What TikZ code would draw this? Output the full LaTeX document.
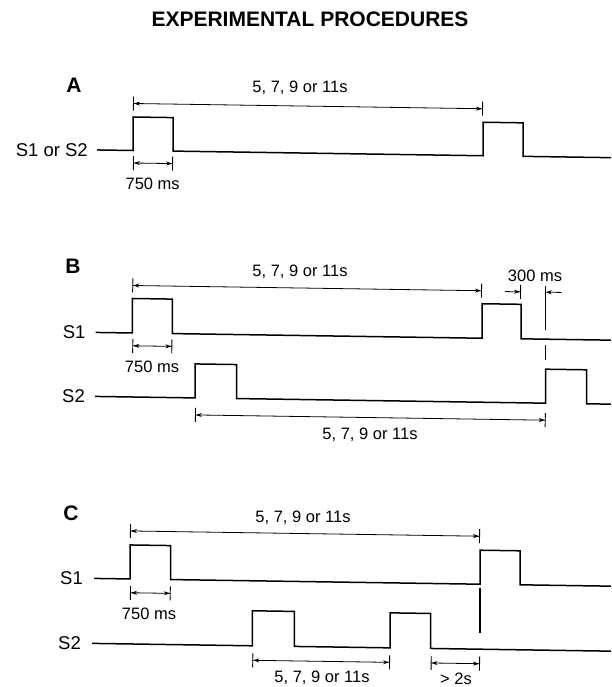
\documentclass[tikz,border=0pt]{standalone}
\usepackage{fontspec}
\setmainfont{Liberation Sans}
\usetikzlibrary{arrows.meta,positioning}
\tikzset{
      wave/.style={
        line width=1.5pt,
        line join=miter
      },
      dimline/.style={
        line width=0.8pt,
        {Bar[width=14pt,line width=0.9pt]Stealth[length=6pt,width=4pt]}-{Stealth[length=6pt,width=4pt]Bar[width=14pt,line width=0.9pt]}
      },
      halfdim/.style={
        line width=0.8pt,
        -{Stealth[length=6pt,width=4pt]Bar[width=14pt,line width=0.9pt]}
      },
      pointer/.style={
        line width=0.8pt,
        -{Stealth[length=6pt,width=4pt]}
      },
      marker/.style={line width=1.2pt},
      sig/.style={font=\fontsize{18.5}{21}\selectfont, inner sep=0pt},
      dimlabel/.style={font=\fontsize{16.5}{19}\selectfont, inner sep=0pt},
      panel/.style={font=\bfseries\fontsize{21}{24}\selectfont, inner sep=0pt}
    }

\begin{document}
\begin{tikzpicture}[x=1pt,y=-1pt]
    \useasboundingbox (0,0) rectangle (611,687);
    \begin{scope}[yslant=-0.015]
    \node[panel] (title) at (310,14.4) {EXPERIMENTAL PROCEDURES};

    \node[panel] (pA) at (74,84) {A};
    \coordinate (a0) at (97,148.5);
    \node[sig, left=9pt of a0] (sA) {S1 or S2};
    \draw[wave] (a0) -- (133,148.5) -- (133,115) -- (173,115) -- (173,148.5) -- (483,148.5) -- (483,115) -- (523,115) -- (523,148.5) -- (611,148.5);
    \coordinate (aT1) at (133,101.5);
    \coordinate (aT2) at (483,101.5);
    \draw[dimline] (aT1) -- (aT2);
    \node[dimlabel] (aTlab) at (300,83.5) {5, 7, 9 or 11s};
    \coordinate (aW1) at (133,161);
    \coordinate (aW2) at (173,161);
    \draw[dimline] (aW1) -- (aW2);
    \node[dimlabel] (aWlab) at (152.7,181.7) {750 ms};

    \node[panel] (pB) at (73,265.6) {B};
    \coordinate (b1) at (95.7,331);
    \coordinate (b2) at (95,395);
    \node[sig, left=10pt of b1] (sB1) {S1};
    \node[sig, left=10pt of b2] (sB2) {S2};
    \draw[wave] (b1) -- (132.3,331) -- (132.3,296.5) -- (172.3,296.5) -- (172.3,331) -- (482,331) -- (482,296.5) -- (521,296.5) -- (521,331) -- (611,331);
    \draw[wave] (b2) -- (195,395) -- (195,361) -- (236.7,361) -- (236.7,395) -- (545.7,395) -- (545.7,361) -- (586.7,361) -- (586.7,395) -- (611,395);
    \coordinate (bT1) at (132.3,283.5);
    \coordinate (bT2) at (482,283.5);
    \draw[dimline] (bT1) -- (bT2);
    \node[dimlabel] (bTlab) at (300,267.5) {5, 7, 9 or 11s};
    \coordinate (bM1) at (545.7,277.8);
    \coordinate (bM2) at (545.7,351.8);
    \draw[marker, dash pattern=on 44pt off 15pt on 15pt] (bM1) -- (bM2);
    \coordinate (bD1) at (505,284);
    \coordinate (bD2) at (521,284);
    \coordinate (bD3) at (561.7,284);
    \coordinate (bD4) at (545.7,284);
    \draw[halfdim] (bD1) -- (bD2);
    \draw[pointer] (bD3) -- (bD4);
    \node[dimlabel] (bDlab) at (535,268) {300 ms};
    \coordinate (bW1) at (132.3,343.8);
    \coordinate (bW2) at (172.3,343.8);
    \draw[dimline] (bW1) -- (bW2);
    \node[dimlabel] (bWlab) at (152,364.7) {750 ms};
    \coordinate (bB1) at (195,412);
    \coordinate (bB2) at (545.7,412);
    \draw[dimline] (bB1) -- (bB2);
    \node[dimlabel] (bBlab) at (370,429.5) {5, 7, 9 or 11s};

    \node[panel] (pC) at (71,512) {C};
    \coordinate (c1) at (94,577);
    \coordinate (c2) at (92,642);
    \node[sig, left=11pt of c1] (sC1) {S1};
    \node[sig, left=11pt of c2] (sC2) {S2};
    \draw[wave] (c1) -- (130,577) -- (130,543) -- (170.7,543) -- (170.7,577) -- (480,577) -- (480,543) -- (520,543) -- (520,577) -- (611,577);
    \draw[wave] (c2) -- (252.3,642) -- (252.3,607) -- (294.3,607) -- (294.3,642) -- (390,642) -- (390,607) -- (430.7,607) -- (430.7,642) -- (611,642);
    \coordinate (cT1) at (130,529);
    \coordinate (cT2) at (480,529);
    \draw[dimline] (cT1) -- (cT2);
    \node[dimlabel] (cTlab) at (303,513) {5, 7, 9 or 11s};
    \coordinate (cW1) at (130,590.8);
    \coordinate (cW2) at (170.7,590.8);
    \draw[dimline] (cW1) -- (cW2);
    \node[dimlabel] (cWlab) at (149,611.8) {750 ms};
    \coordinate (cM1) at (480,580.8);
    \coordinate (cM2) at (480,626.1);
    \draw[marker] (cM1) -- (cM2);
    \coordinate (cB1) at (252.3,656.5);
    \coordinate (cB2) at (390,656.5);
    \draw[dimline] (cB1) -- (cB2);
    \node[dimlabel] (cBlab) at (322,672.5) {5, 7, 9 or 11s};
    \coordinate (cG1) at (430.7,656.5);
    \coordinate (cG2) at (480,656.5);
    \draw[dimline] (cG1) -- (cG2);
    \node[dimlabel] (cGlab) at (456,671.5) {> 2s};
    \end{scope}
    \end{tikzpicture}
\end{document}
